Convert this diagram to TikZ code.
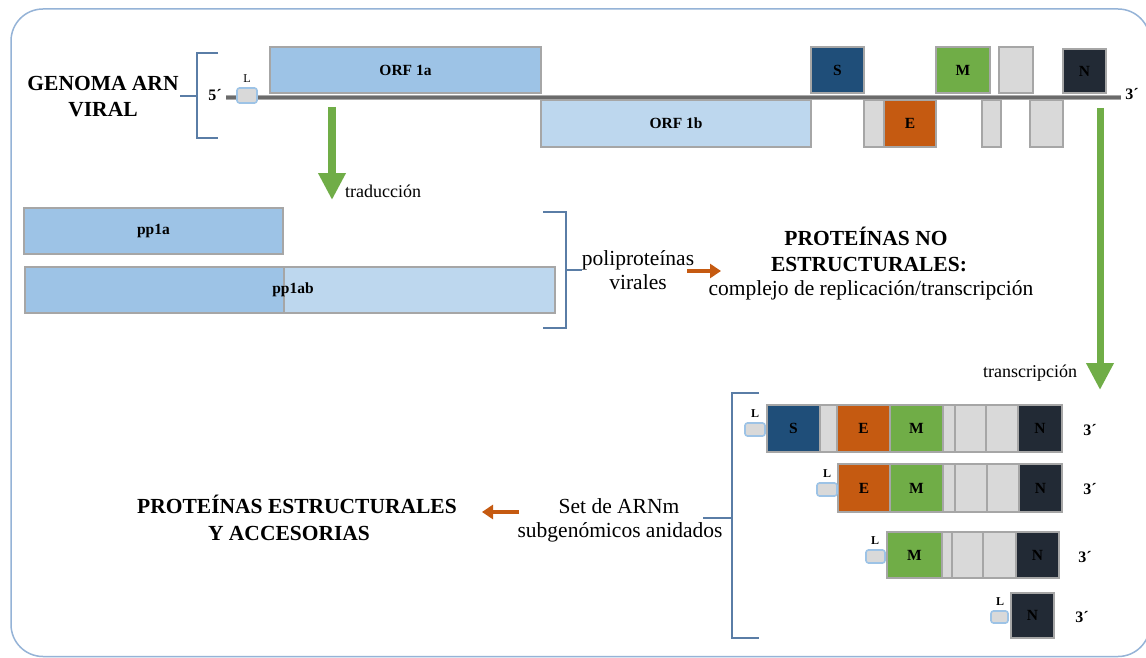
\documentclass[tikz,border=0pt]{standalone}
\usepackage{fontspec}
\setmainfont{Liberation Serif}
\usetikzlibrary{arrows.meta}
\definecolor{framec}{HTML}{95B3D7}
\definecolor{brkc}{HTML}{5A7DA6}
\definecolor{orfa}{HTML}{9DC3E6}
\definecolor{orfb}{HTML}{BDD7EE}
\definecolor{sblue}{HTML}{1F4E79}
\definecolor{eorange}{HTML}{C55A11}
\definecolor{mgreen}{HTML}{70AD47}
\definecolor{ndark}{HTML}{222A35}
\definecolor{lgray}{HTML}{D9D9D9}
\definecolor{bordc}{HTML}{A6A6A6}
\definecolor{lblue}{HTML}{9DC3E6}
\definecolor{linec}{HTML}{6B6B6B}
\definecolor{lineo}{HTML}{A8A8A8}
\newcommand{\myBig}{\fontsize{21.5}{26}\selectfont}
\newcommand{\myMid}{\fontsize{18}{22}\selectfont}
\newcommand{\myLbl}{\fontsize{15.5}{18}\selectfont\bfseries}
\newcommand{\mySmall}{\fontsize{12}{14}\selectfont}
\newcommand{\segbox}[7]{%
  \node[seg, fill=#6, minimum width={(#4-#2)*1pt}, minimum height={(#5-#3)*1pt}] (#1) at (#2,#3) {#7};}
\newcommand{\lbox}[5]{%
  \node[lboxst, minimum width={(#4-#2)*1pt}, minimum height={(#5-#3)*1pt}] (#1) at (#2,#3) {};}
\tikzset{
  frame/.style={draw=framec, line width=1.5pt, rounded corners=32pt},
  brk/.style={draw=brkc, line width=1.6pt},
  seg/.style={draw=bordc, line width=1.8pt, inner sep=0pt, outer sep=0pt, anchor=north west, font=\myLbl, text=black},
  lboxst/.style={draw=lblue, fill=lgray, line width=1.6pt, rounded corners=2.5pt, inner sep=0pt, outer sep=0pt, anchor=north west},
  garrow/.style={draw=mgreen, line width=8pt, -{Triangle[width=26pt,length=27pt]}},
  oarrow/.style={draw=eorange, line width=4.5pt, -{Triangle[width=14pt,length=11pt]}},
  bigb/.style={font=\myBig\bfseries, anchor=base, inner sep=0pt},
  bigr/.style={font=\myBig, anchor=base, inner sep=0pt},
  midr/.style={font=\myMid, anchor=base, inner sep=0pt},
  lsmall/.style={font=\mySmall, anchor=base, inner sep=0pt},
  lsmallb/.style={font=\mySmall\bfseries, anchor=base, inner sep=0pt},
  endl/.style={font=\fontsize{16}{18}\selectfont\bfseries, anchor=base, inner sep=0pt},
}
\begin{document}
\begin{tikzpicture}[x=1pt,y=-1pt]
\useasboundingbox (0,0) rectangle (1146,658);
\fill[white] (0,0) rectangle (1146,658);
% frame
\draw[frame] (11,9) rectangle (1150,656.5);

% ---------- genome ----------
\node[bigb] (gen1) at (103,91) {GENOMA ARN};
\node[bigb] (gen2) at (103,117) {VIRAL};
\draw[brk] (218,53) -- (197,53) -- (197,138) -- (218,138);
\draw[brk] (180,96) -- (197,96);
\node[endl] (five) at (215,101) {5´};
\coordinate (gl1) at (226,97.5);
\coordinate (gl2) at (1121,97.5);
\draw[draw=lineo, line width=5pt] (gl1) -- (gl2);
\draw[draw=linec, line width=2.5pt] (gl1) -- (gl2);
\lbox{lg}{237}{88}{257}{103}
\node[lsmall] (lgt) at (247,83) {L};
\segbox{orf1a}{270}{47}{541}{93}{orfa}{ORF 1a}
\segbox{orf1b}{541}{100}{811}{147}{orfb}{ORF 1b}
\segbox{gs}{811}{47}{864}{93}{sblue}{S}
\segbox{gg1}{864}{100}{884}{147}{lgray}{}
\segbox{ge}{884}{100}{936}{147}{eorange}{E}
\segbox{gm}{936}{47}{990}{93}{mgreen}{M}
\segbox{gg2}{999}{47}{1033}{93}{lgray}{}
\segbox{gg3}{982}{100}{1001}{147}{lgray}{}
\segbox{gg4}{1030}{100}{1063}{147}{lgray}{}
\segbox{gn}{1063}{49}{1106}{93}{ndark}{N}
\node[endl] (three) at (1132,100) {3´};

% ---------- translation ----------
\coordinate (tr1) at (332,107);
\coordinate (tr2) at (332,200);
\draw[garrow] (tr1) -- (tr2);
\node[midr, anchor=base west] (trad) at (345,197) {traducción};

\segbox{pp1a}{24}{208}{283}{254}{orfa}{pp1a}
\segbox{pp1abl}{25}{267}{284}{313}{orfa}{}
\segbox{pp1abr}{284}{267}{555}{313}{orfb}{}
\node[font=\myLbl] (pp1ab) at (293,290) {pp1ab};
\draw[brk] (543,212) -- (566,212) -- (566,328) -- (543,328);
\draw[brk] (566,270) -- (582,270);
\node[bigr] (poli1) at (638,265) {poliproteínas};
\node[bigr] (poli2) at (638,289) {virales};
\coordinate (oa1) at (687,271);
\coordinate (oa2) at (721,271);
\draw[oarrow] (oa1) -- (oa2);
\node[bigb] (pne1) at (866,245) {PROTEÍNAS NO};
\node[bigb] (pne2) at (869,271) {ESTRUCTURALES:};
\node[bigr] (comp) at (871,295) {complejo de replicación/transcripción};

% ---------- transcription ----------
\coordinate (tc1) at (1100,108);
\coordinate (tc2) at (1100,390);
\draw[garrow, line width=7pt] (tc1) -- (tc2);
\node[midr] (transc) at (1030,377) {transcripción};

% ---------- subgenomic ----------
\draw[brk] (759,393) -- (732,393) -- (732,638) -- (759,638);
\draw[brk] (703,518) -- (732,518);
\node[bigr] (set1) at (619,513) {Set de ARNm};
\node[bigr] (set2) at (620,537) {subgenómicos anidados};
\coordinate (ob1) at (519,512);
\coordinate (ob2) at (482,512);
\draw[oarrow] (ob1) -- (ob2);
\node[bigb] (pe1) at (297,513) {PROTEÍNAS ESTRUCTURALES};
\node[bigb] (pe2) at (289,540) {Y ACCESORIAS};

% row 1
\segbox{r1s}{767}{405}{820}{452}{sblue}{S}
\segbox{r1g1}{820}{405}{837}{452}{lgray}{}
\segbox{r1e}{837}{405}{890}{452}{eorange}{E}
\segbox{r1m}{890}{405}{943}{452}{mgreen}{M}
\segbox{r1g2}{943}{405}{955}{452}{lgray}{}
\segbox{r1g3}{955}{405}{986}{452}{lgray}{}
\segbox{r1g4}{986}{405}{1018}{452}{lgray}{}
\segbox{r1n}{1018}{405}{1062}{452}{ndark}{N}
\lbox{r1l}{745}{423}{765}{436}
\node[lsmallb] (r1lt) at (755,417) {L};
\node[endl] (r1t) at (1090,435) {3´};
% row 2
\segbox{r2e}{838}{464}{890}{512}{eorange}{E}
\segbox{r2m}{890}{464}{943}{512}{mgreen}{M}
\segbox{r2g2}{943}{464}{955}{512}{lgray}{}
\segbox{r2g3}{955}{464}{987}{512}{lgray}{}
\segbox{r2g4}{987}{464}{1019}{512}{lgray}{}
\segbox{r2n}{1019}{464}{1062}{512}{ndark}{N}
\lbox{r2l}{817}{483}{837}{496}
\node[lsmallb] (r2lt) at (827,477) {L};
\node[endl] (r2t) at (1090,494) {3´};
% row 3
\segbox{r3m}{887}{532}{942}{578}{mgreen}{M}
\segbox{r3g2}{942}{532}{952}{578}{lgray}{}
\segbox{r3g3}{952}{532}{983}{578}{lgray}{}
\segbox{r3g4}{983}{532}{1016}{578}{lgray}{}
\segbox{r3n}{1016}{532}{1059}{578}{ndark}{N}
\lbox{r3l}{866}{550}{885}{563}
\node[lsmallb] (r3lt) at (875,544) {L};
\node[endl] (r3t) at (1085,562) {3´};
% row 4
\segbox{r4n}{1011}{593}{1054}{638}{ndark}{N}
\lbox{r4l}{991}{611}{1008}{623}
\node[lsmallb] (r4lt) at (1000,605) {L};
\node[endl] (r4t) at (1082,622) {3´};
\end{tikzpicture}
\end{document}
